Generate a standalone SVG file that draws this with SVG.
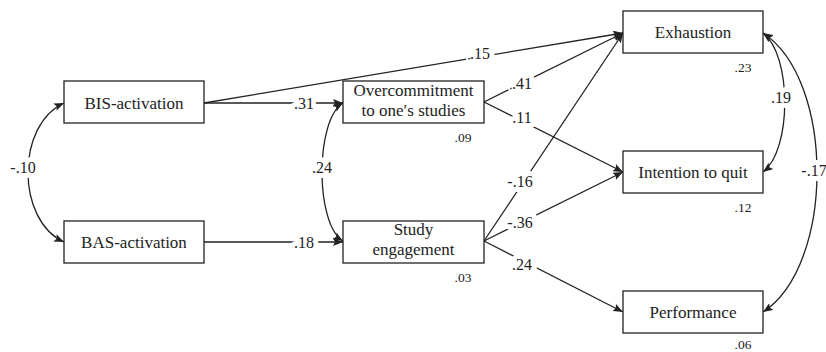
<svg xmlns="http://www.w3.org/2000/svg" width="826" height="352" viewBox="0 0 826 352">
<style>
.box{fill:#fff;stroke:#222;stroke-width:1.3}
text{font-family:"Liberation Serif","Times New Roman","DejaVu Serif",serif;fill:#222;text-anchor:middle}
.nt{font-size:17px}
.lbl{font-size:16px;stroke:#fff;stroke-width:10;paint-order:stroke;stroke-linejoin:round}
.r2{font-size:13.5px}
.c{fill:none;stroke:#222;stroke-width:1.3}
</style>
<defs>
<marker id="ah" viewBox="0 0 10 8" refX="10" refY="4" markerWidth="10" markerHeight="8" markerUnits="userSpaceOnUse" orient="auto-start-reverse">
<path d="M0,0 L10,4 L0,8 L2,4 z" fill="#222"/>
</marker>
</defs>
<g id="connectors">
<path class="c" d="M204,103 L623,33" marker-end="url(#ah)"/>
<path class="c" d="M204,103 L343,103" marker-end="url(#ah)"/>
<path class="c" d="M204,242 L343,242" marker-end="url(#ah)"/>
<path class="c" d="M484,102 L623,33" marker-end="url(#ah)"/>
<path class="c" d="M484,102 L623,172" marker-end="url(#ah)"/>
<path class="c" d="M484,241 L623,33" marker-end="url(#ah)"/>
<path class="c" d="M484,241 L623,172" marker-end="url(#ah)"/>
<path class="c" d="M484,241 L623,312" marker-end="url(#ah)"/>
<path class="c" d="M64,103 C16,125 16,220 64,242" marker-start="url(#ah)" marker-end="url(#ah)"/>
<path class="c" d="M343,103 C315,120 315,224 343,241" marker-start="url(#ah)" marker-end="url(#ah)"/>
<path class="c" d="M763,33 C792,55 792,150 763,172" marker-start="url(#ah)" marker-end="url(#ah)"/>
<path class="c" d="M763,33 C835,80 835,265 763,312" marker-start="url(#ah)" marker-end="url(#ah)"/>
<text class="lbl" x="480" y="59">.15</text>
<text class="lbl" x="304" y="109">.31</text>
<text class="lbl" x="304" y="248">.18</text>
<text class="lbl" x="522" y="89">.41</text>
<text class="lbl" x="522" y="123">.11</text>
<text class="lbl" x="520" y="187">-.16</text>
<text class="lbl" x="520" y="228">-.36</text>
<text class="lbl" x="522" y="270">.24</text>
<text class="lbl" x="23" y="173">-.10</text>
<text class="lbl" x="322" y="173">.24</text>
<text class="lbl" x="781" y="103">.19</text>
<text class="lbl" x="814" y="176">-.17</text>
</g>
<g id="bis"><rect class="box" x="64" y="81" width="140" height="42"/><text class="nt" x="134" y="109">BIS-activation</text></g>
<g id="bas"><rect class="box" x="64" y="221" width="140" height="42"/><text class="nt" x="134" y="248">BAS-activation</text></g>
<g id="overcommitment"><rect class="box" x="343" y="81" width="141" height="42"/><text class="nt" x="413.5" y="96">Overcommitment</text><text class="nt" x="413.5" y="116">to one′s studies</text><text class="r2" x="463" y="142">.09</text></g>
<g id="engagement"><rect class="box" x="343" y="221" width="141" height="42"/><text class="nt" x="413.5" y="235">Study</text><text class="nt" x="413.5" y="255">engagement</text><text class="r2" x="463" y="282">.03</text></g>
<g id="exhaustion"><rect class="box" x="623" y="11" width="140" height="42"/><text class="nt" x="693" y="38">Exhaustion</text><text class="r2" x="743" y="72">.23</text></g>
<g id="intention"><rect class="box" x="623" y="151" width="140" height="42"/><text class="nt" x="693" y="178">Intention to quit</text><text class="r2" x="743" y="212">.12</text></g>
<g id="performance"><rect class="box" x="623" y="291" width="140" height="42"/><text class="nt" x="693" y="318">Performance</text><text class="r2" x="743" y="349">.06</text></g>
</svg>
